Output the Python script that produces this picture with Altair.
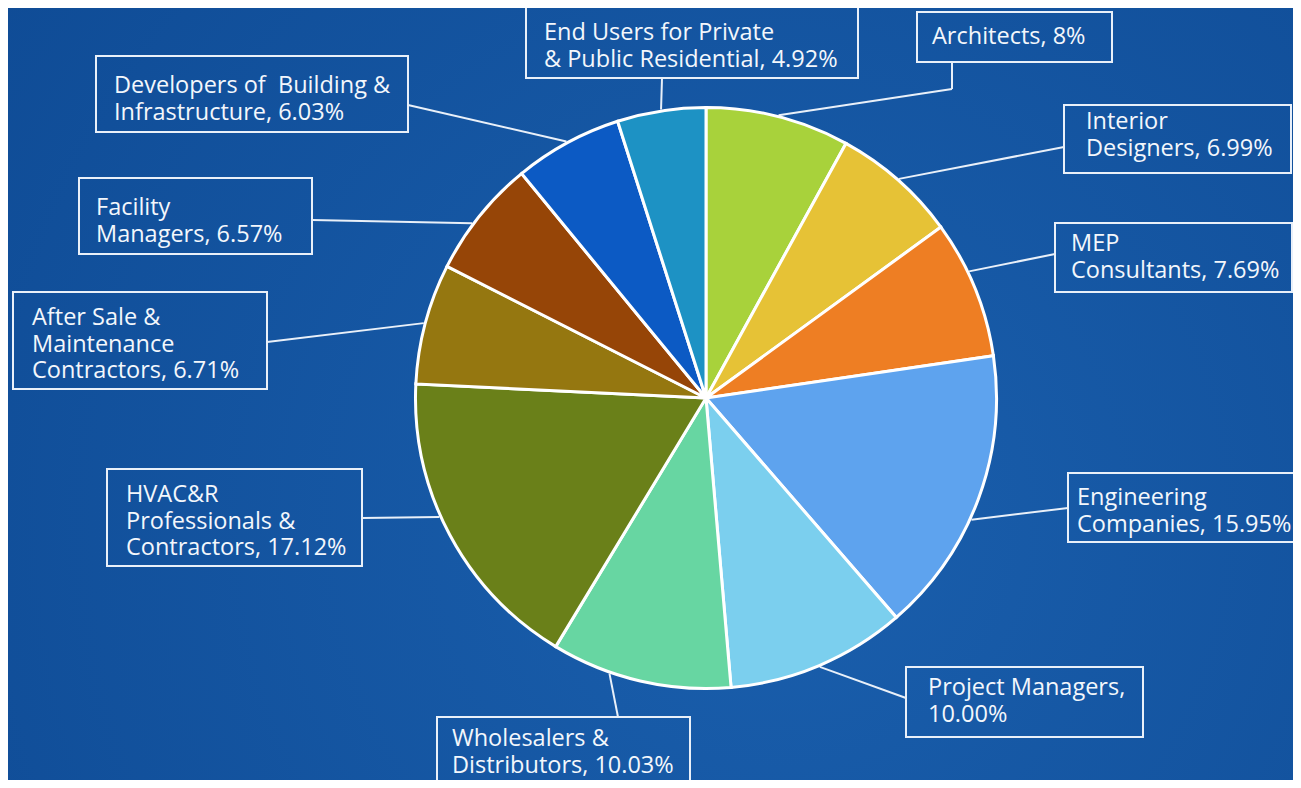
import altair as alt
import numpy as np
import pandas as pd

# ---------------- data ----------------
segments = [
    "Architects", "Interior Designers", "MEP Consultants", "Engineering Companies",
    "Project Managers", "Wholesalers & Distributors", "HVAC&R Professionals & Contractors",
    "After Sale & Maintenance Contractors", "Facility Managers",
    "Developers of Building & Infrastructure", "End Users for Private & Public Residential",
]
values = [8.00, 6.99, 7.69, 15.95, 10.00, 10.03, 17.12, 6.71, 6.57, 6.03, 4.92]
labels = [
    "Architects, 8%",
    "Interior\nDesigners, 6.99%",
    "MEP\nConsultants, 7.69%",
    "Engineering\nCompanies, 15.95%",
    "Project Managers,\n10.00%",
    "Wholesalers &\nDistributors, 10.03%",
    "HVAC&R\nProfessionals &\nContractors, 17.12%",
    "After Sale &\nMaintenance\nContractors, 6.71%",
    "Facility\nManagers, 6.57%",
    "Developers of\u00a0 Building &\nInfrastructure, 6.03%",
    "End Users for Private\n& Public Residential, 4.92%",
]
colors = ["#a8d23b", "#e6c236", "#ee7e23", "#5ea3ee", "#7bcfee", "#67d6a2",
          "#6a8019", "#957710", "#964507", "#0c5ac4", "#1d92c4"]

# ---------------- layout (page pixel coordinates) ----------------
W, H = 1285, 772
OFF = 8
CX, CY, R = 706, 398, 292
box_x1 = [917, 1064, 1055, 1068, 906, 437, 107, 13, 79, 96, 526]
box_y1 = [12, 105, 223, 473, 667, 717, 469, 292, 178, 56, 7]
box_x2 = [1112, 1291, 1292, 1298, 1143, 690, 362, 267, 312, 408, 858]
box_y2 = [62, 173, 292, 542, 737, 800, 566, 389, 254, 132, 78]
text_x = [932, 1086, 1071, 1077, 928, 452, 126, 32, 96, 114, 544]
text_y = [44, 129, 251, 505, 695, 746, 502, 325, 215, 93, 40]
end_x = [952, 1064, 1055, 1068, 906, 618, 362, 267, 312, 408, 662]
end_y = [62, 147, 254, 508, 698, 717, 518, 342, 220, 105, 78]
elbow_x = [952, 1064, 1055, 1068, 906, 618, 362, 267, 312, 408, 662]
elbow_y = [89, 147, 254, 508, 698, 717, 518, 342, 220, 105, 78]
attach_shift = [0, 0, -3.5, 4.3, 0, 6.2, 4.0, 0, -2, 0, 0]

df = pd.DataFrame({
    "idx": list(range(len(values))),
    "segment": segments,
    "value": values,
    "label": labels,
    "bx1": box_x1, "by1": box_y1, "bx2": box_x2, "by2": box_y2,
    "tx": text_x, "ty": text_y,
    "ex": end_x, "ey": end_y, "mx": elbow_x, "my": elbow_y,
})
vals = np.array(values)
cum = np.cumsum(vals)
mid = (cum - vals / 2) / vals.sum() * 2 * np.pi + np.radians(attach_shift)
df["sx"] = CX + R * np.sin(mid)
df["sy"] = CY - R * np.cos(mid)

xs = alt.Scale(domain=[OFF, OFF + W], nice=False, zero=False)
ys = alt.Scale(domain=[OFF, OFF + H], nice=False, zero=False, reverse=True)

LINE = "#e9f0f9"
TEXT = "#f3f7fc"

bg = alt.Chart(pd.DataFrame({"a": [0]})).mark_rect(
    color=alt.Gradient(
        gradient="radial",
        stops=[alt.GradientStop(color="#1a5fad", offset=0),
               alt.GradientStop(color="#0e4a94", offset=1)],
        x1=0.6, y1=0.6, x2=0.6, y2=0.6, r1=0, r2=0.8,
    )
).encode(x=alt.value(0), x2=alt.value(W), y=alt.value(0), y2=alt.value(H))

pie = alt.Chart(df).mark_arc(radius=R - 1.5, stroke="white", strokeWidth=3).encode(
    theta=alt.Theta("value:Q", stack=True),
    order=alt.Order("idx:Q"),
    color=alt.Color("segment:N", scale=alt.Scale(domain=segments, range=colors), legend=None),
    x=alt.value(CX - OFF),
    y=alt.value(CY - OFF),
)

seg1 = alt.Chart(df).mark_rule(color=LINE, strokeWidth=2).encode(
    x=alt.X("sx:Q", scale=xs, axis=None),
    y=alt.Y("sy:Q", scale=ys, axis=None),
    x2="mx:Q", y2="my:Q",
)
seg2 = alt.Chart(df).mark_rule(color=LINE, strokeWidth=2).encode(
    x=alt.X("mx:Q", scale=xs, axis=None),
    y=alt.Y("my:Q", scale=ys, axis=None),
    x2="ex:Q", y2="ey:Q",
)
boxes = alt.Chart(df).mark_rect(fillOpacity=0, stroke=LINE, strokeWidth=2).encode(
    x=alt.X("bx1:Q", scale=xs, axis=None),
    x2="bx2:Q",
    y=alt.Y("by1:Q", scale=ys, axis=None),
    y2="by2:Q",
)
texts = alt.Chart(df).mark_text(
    align="left", baseline="alphabetic", font="Open Sans", fontSize=23.5,
    lineBreak="\n", lineHeight=26.5, color=TEXT,
).encode(
    x=alt.X("tx:Q", scale=xs, axis=None),
    y=alt.Y("ty:Q", scale=ys, axis=None),
    text="label:N",
)

chart = alt.layer(bg, seg1, seg2, pie, boxes, texts).properties(
    width=W, height=H, padding=0, autosize="none", background="#0e4a94",
).configure_view(strokeWidth=0)

chart.save("out.html", embed_options={"renderer": "svg", "actions": False})
